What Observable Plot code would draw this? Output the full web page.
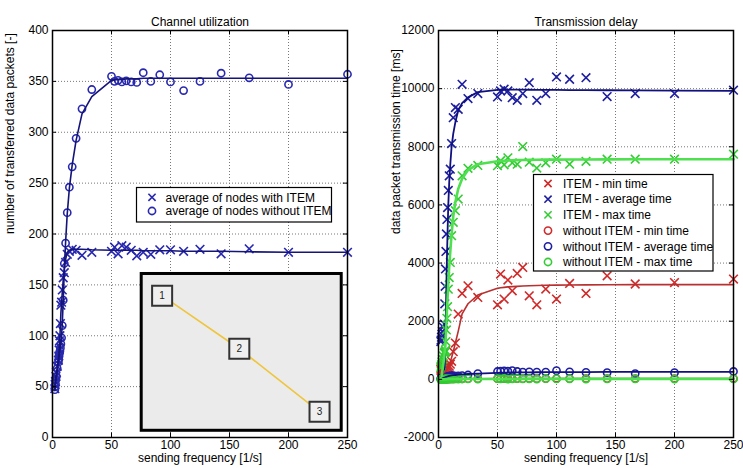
<!DOCTYPE html>
<html><head><meta charset="utf-8">
<script src="https://cdn.jsdelivr.net/npm/d3@7"></script>
<script src="https://cdn.jsdelivr.net/npm/@observablehq/plot@0.6"></script>
<style>
body{margin:0;background:#fff;font-family:"Liberation Sans",Arial,sans-serif;}
#wrap{position:relative;width:743px;height:468px;display:flex;overflow:hidden;}
#wrap svg{max-width:none;}
</style></head><body><div id="wrap"></div>
<script>
// ---------- data ----------
const freq = [2, 2.2, 2.5, 2.9, 3.3, 4, 5, 5.3, 5.6, 5.9, 6.3, 6.7, 7.1, 7.7, 8.3, 9.1, 10, 11.1, 12.5, 14.3, 16.7, 20, 25, 33.3,
  50, 52.6, 55.6, 58.8, 62.5, 66.7, 71.4, 76.9, 83.3, 90.9, 100, 111.1, 125, 142.9, 166.7, 200, 250];

// Channel utilization
const withItem = [48, 52, 55, 60, 64, 70, 76, 80, 86, 95, 100, 112, 130, 133, 145, 157, 162, 172, 180, 183, 185, 184, 179, 182,
  183, 187, 180.5, 188.5, 187, 184, 178.5, 182, 180, 184.5, 184.5, 183, 185, 180.5, 185.5, 182, 182];
const withItemFit = [47, 51, 54, 59, 63, 69, 76, 80, 85, 92, 100, 110, 122, 132, 143, 155, 165, 175, 182, 184, 185, 185, 185, 184.5,
  184, 184, 184, 184, 184, 184, 184, 183.5, 183.5, 183.5, 183.5, 183, 183, 183, 182.5, 182, 182];
const withoutItem = [47, 50, 53, 57, 60, 68, 74, 77, 80, 83, 85, 88, 92, 98, 110, 135, 171, 191, 221, 246, 266, 294, 323, 342,
  355, 350, 351, 349.5, 350.5, 349.5, 349, 358.5, 350, 356.5, 349.5, 341, 350, 358, 353.5, 347, 357];
const withoutItemFit = [46, 49, 52, 56, 60, 66, 74, 77, 80, 83, 86, 89, 93, 100, 112, 135, 165, 192, 220, 245, 268, 292, 318, 335,
  351, 351.5, 352, 352, 352.5, 352.5, 352.5, 353, 353, 353, 353, 353, 353, 353, 353, 353, 353];

// Transmission delay
const itemMin = [350, 300, 420, 260, 320, 480, 360, 300, 420, 350, 300, 450, 360, 500, 400, 450, 520, 620, 950, 1250, 2245, 2954, 3218, 2816,
  2565, 3620, 2760, 3414, 3046, 3643, 3848, 2874, 2565, 3105, 2760, 3300, 2954, 3563, 3280, 3330, 3448];
const itemMinFit = [150, 160, 170, 180, 190, 210, 240, 250, 265, 280, 300, 320, 340, 380, 420, 500, 600, 750, 950, 1250, 1650, 2250, 2600, 2900,
  3130, 3150, 3165, 3180, 3190, 3200, 3210, 3220, 3230, 3235, 3240, 3245, 3250, 3255, 3258, 3260, 3260];
const itemAvg = [1300, 1350, 1450, 1550, 1650, 1800, 1900, 2600, 3200, 3800, 4400, 5000, 5500, 5910, 6500, 7000, 7230, 8110, 9000, 9350, 9290, 10150, 9660, 9830,
  9715, 9920, 9980, 9920, 9690, 9600, 9830, 10206, 9600, 9830, 10402, 10323, 10378, 9727, 9830, 9830, 9945];
const itemAvgFit = [100, 120, 150, 200, 250, 300, 350, 500, 900, 1500, 2400, 3300, 4100, 5100, 6000, 6800, 7400, 8000, 8450, 8850, 9250, 9500, 9700, 9880,
  9960, 9962, 9963, 9964, 9964, 9964, 9963, 9962, 9960, 9958, 9955, 9952, 9948, 9944, 9938, 9930, 9920];
const itemMax = [400, 450, 500, 600, 700, 800, 900, 925, 950, 1000, 1300, 1700, 2100, 2500, 3100, 3500, 4020, 4940, 5400, 5800, 6200, 7000, 7260, 7360,
  7350, 7520, 7380, 7620, 7450, 7400, 8006, 7470, 7270, 7450, 7573, 7400, 7500, 7573, 7573, 7573, 7745];
const itemMaxFit = [0, 50, 100, 200, 300, 500, 800, 950, 1100, 1300, 1600, 1900, 2300, 2800, 3300, 3900, 4400, 5000, 5600, 6100, 6550, 6900, 7200, 7400,
  7500, 7510, 7520, 7530, 7535, 7540, 7545, 7550, 7555, 7558, 7560, 7562, 7565, 7567, 7570, 7570, 7570];
const noItemMin = [5, 5, 8, 6, 10, 8, 12, 10, 12, 14, 12, 15, 14, 16, 15, 18, 16, 18, 20, 18, 22, 20, 24, 22,
  25, 24, 26, 25, 24, 26, 25, 27, 25, 26, 28, 25, 27, 26, 28, 27, 28];
const noItemMinFit = [5, 6, 7, 8, 9, 10, 11, 12, 12, 13, 13, 14, 14, 15, 15, 16, 16, 17, 18, 19, 20, 21, 22, 23,
  24, 24, 24, 25, 25, 25, 25, 25, 26, 26, 26, 26, 26, 27, 27, 27, 27];
const noItemAvg = [30, 30, 35, 40, 45, 50, 60, 65, 70, 75, 80, 90, 95, 100, 105, 110, 120, 125, 130, 110, 120, 130, 150, 200,
  270, 280, 290, 280, 300, 270, 250, 260, 250, 250, 300, 260, 240, 230, 200, 230, 272];
const noItemAvgFit = [0, 5, 10, 20, 30, 45, 60, 65, 70, 75, 80, 88, 95, 102, 110, 118, 126, 134, 142, 150, 160, 172, 185, 200,
  225, 228, 231, 234, 236, 238, 240, 242, 244, 246, 248, 250, 252, 254, 256, 258, 260];
const noItemMax = [-10, 0, 5, -5, 10, 5, 0, 10, 5, 15, 0, 10, 20, 5, 15, 10, 20, 15, 5, 25, 10, 20, 15, 10,
  25, 15, 30, 10, 20, 25, 15, 20, 10, 25, 15, 20, 10, 15, 20, 10, 15];
const noItemMaxFit = [0, 1, 2, 3, 4, 5, 6, 7, 7, 8, 8, 9, 9, 10, 10, 10, 11, 11, 12, 12, 12, 13, 13, 13,
  14, 14, 14, 14, 14, 14, 15, 15, 15, 15, 15, 15, 15, 15, 15, 15, 15];

// ticks
const xTicks = [0, 50, 100, 150, 200, 250];
const leftYTicks = [0, 50, 100, 150, 200, 250, 300, 350, 400];
const rightYTicks = [-2000, 0, 2000, 4000, 6000, 8000, 10000, 12000];

// inset (topology drawing, in chart units)
const insetBox = [{x1: 75.6, x2: 245.1, y1: 6.6, y2: 160.7}];
const insetNodes = [
  {label: "1", x: 92.9, y: 139.4},
  {label: "2", x: 158.3, y: 87.2},
  {label: "3", x: 226.3, y: 25.3}
];

// ---------- helpers ----------
const FONT = "'Liberation Sans', Arial, Helvetica, sans-serif";
const toRows = (ys) => freq.map((f, i) => ({f, v: ys[i]}));
const plain = (d) => String(d);

function innerTicks(xd, yd, xt, yt) {
  const dx = (xd[1] - xd[0]) * 0.014, dy = (yd[1] - yd[0]) * 0.011;
  const xi = xt.filter(t => t > xd[0] && t < xd[1]);
  const yi = yt.filter(t => t > yd[0] && t < yd[1]);
  const o = {stroke: "black", strokeWidth: 1};
  return [
    Plot.ruleX(xi, {x: d => d, y1: yd[0], y2: yd[0] + dy, ...o}),
    Plot.ruleX(xi, {x: d => d, y1: yd[1] - dy, y2: yd[1], ...o}),
    Plot.ruleY(yi, {y: d => d, x1: xd[0], x2: xd[0] + dx, ...o}),
    Plot.ruleY(yi, {y: d => d, x1: xd[1] - dx, x2: xd[1], ...o})
  ];
}
function labels(title, ylab, ydx) {
  return [
    Plot.text([title], {text: d => d, frameAnchor: "top", dy: -13, fontSize: 12}),
    Plot.text(["sending frequency [1/s]"], {text: d => d, frameAnchor: "bottom", dy: 24, fontSize: 12}),
    Plot.text([ylab], {text: d => d, frameAnchor: "left", rotate: -90, dx: ydx, fontSize: 12})
  ];
}
const grid = (yt) => [
  Plot.gridX(xTicks, {stroke: "#777", strokeOpacity: 1, strokeDasharray: "1,2"}),
  Plot.gridY(yt, {stroke: "#777", strokeOpacity: 1, strokeDasharray: "1,2"})
];
const xs = (ys, c) => Plot.dot(toRows(ys), {x: "f", y: "v", symbol: "times", r: 4, stroke: c, strokeWidth: 1.6});
const os = (ys, c) => Plot.dot(toRows(ys), {x: "f", y: "v", symbol: "circle", r: 3.6, stroke: c, strokeWidth: 1.6, fill: "none"});
const ln = (ys, c, w = 1.6) => Plot.line(toRows(ys), {x: "f", y: "v", stroke: c, strokeWidth: w});

// ---------- left chart ----------
const LB = "#2828b0", LL = "#14147a";
const left = Plot.plot({
  width: 372, height: 468, marginLeft: 52, marginRight: 25, marginTop: 30, marginBottom: 31,
  style: {fontFamily: FONT, fontSize: "12px", background: "white", overflow: "visible", color: "black"},
  x: {domain: [0, 250]},
  y: {domain: [0, 400]},
  marks: [
    ...grid(leftYTicks),
    Plot.rect(insetBox, {x1: "x1", x2: "x2", y1: "y1", y2: "y2", fill: "#ebebeb", stroke: "black", strokeWidth: 3}),
    Plot.line(insetNodes, {x: "x", y: "y", stroke: "#eec53c", strokeWidth: 1.6}),
    Plot.dot(insetNodes, {x: "x", y: "y", symbol: "square", r: 11.3, fill: "#efefef", stroke: "#333", strokeWidth: 2}),
    Plot.text(insetNodes, {x: "x", y: "y", text: "label", fontSize: 10, fill: "#222"}),
    xs(withItem, LB),
    os(withoutItem, LB),
    ln(withItemFit, LL),
    ln(withoutItemFit, LL),
    ...innerTicks([0, 250], [0, 400], xTicks, leftYTicks),
    Plot.axisX(xTicks, {tickSize: 0, tickPadding: 3, label: null, fontSize: 12, tickFormat: plain}),
    Plot.axisY(leftYTicks, {tickSize: 0, tickPadding: 4, label: null, fontSize: 12, tickFormat: plain}),
    Plot.frame({stroke: "black", strokeWidth: 1.5}),
    ...labels("Channel utilization", "number of transferred data packets [-]", -42)
  ]
});

// ---------- right chart ----------
const RR = "#d02a2a", RRL = "#b83030", RB = "#1e1ea0", RBL = "#10107e", RG = "#33cc33", RGL = "#4fe04f";
const right = Plot.plot({
  width: 371, height: 468, marginLeft: 66, marginRight: 10, marginTop: 30, marginBottom: 31,
  style: {fontFamily: FONT, fontSize: "12px", background: "white", overflow: "visible", color: "black"},
  x: {domain: [0, 250]},
  y: {domain: [-2000, 12000]},
  marks: [
    ...grid(rightYTicks),
    xs(itemMin, RR),
    xs(itemAvg, RB),
    xs(itemMax, RG),
    os(noItemMin, RR),
    os(noItemAvg, RB),
    os(noItemMax, RG),
    ln(itemMinFit, RRL),
    ln(itemAvgFit, RBL, 1.8),
    ln(itemMaxFit, RGL, 2.6),
    ln(noItemMinFit, RRL),
    ln(noItemAvgFit, RBL, 1.8),
    ln(noItemMaxFit, RGL, 2.6),
    ...innerTicks([0, 250], [-2000, 12000], xTicks, rightYTicks),
    Plot.axisX(xTicks, {tickSize: 0, tickPadding: 3, label: null, fontSize: 12, tickFormat: plain}),
    Plot.axisY(rightYTicks, {tickSize: 0, tickPadding: 4, label: null, fontSize: 12, tickFormat: plain}),
    Plot.frame({stroke: "black", strokeWidth: 1.5}),
    ...labels("Transmission delay", "data packet transmission time [ms]", -42)
  ]
});

const wrap = document.getElementById("wrap");
wrap.appendChild(left);
wrap.appendChild(right);

// ---------- legends ----------
function legend(x, y, w, h, entries, mx, tx, y0, dy) {
  const svg = d3.select(wrap).append("svg")
    .attr("width", w + 2).attr("height", h + 2)
    .style("position", "absolute").style("left", x + "px").style("top", y + "px")
    .style("overflow", "visible");
  svg.append("rect").attr("x", 0.5).attr("y", 0.5).attr("width", w).attr("height", h)
    .attr("fill", "white").attr("stroke", "black").attr("stroke-width", 1.2);
  entries.forEach((e, i) => {
    const cy = y0 + i * dy;
    if (e.symbol === "times") {
      const r = 3.6;
      svg.append("path").attr("d", `M${mx - r},${cy - r}L${mx + r},${cy + r}M${mx - r},${cy + r}L${mx + r},${cy - r}`)
        .attr("stroke", e.color).attr("stroke-width", 1.6).attr("fill", "none");
    } else {
      svg.append("circle").attr("cx", mx).attr("cy", cy).attr("r", 3.6)
        .attr("stroke", e.color).attr("stroke-width", 1.6).attr("fill", "none");
    }
    svg.append("text").attr("x", tx).attr("y", cy).attr("dy", "0.35em")
      .attr("font-family", FONT).attr("font-size", 12).attr("fill", "black").text(e.label);
  });
}
legend(135.5, 187, 195, 34.5, [
  {symbol: "times", color: LB, label: "average of nodes with ITEM"},
  {symbol: "circle", color: LB, label: "average of nodes without ITEM"}
], 16, 29.5, 10.3, 13.7);
legend(533, 174, 179.5, 96.5, [
  {symbol: "times", color: RR, label: "ITEM - min time"},
  {symbol: "times", color: RB, label: "ITEM - average time"},
  {symbol: "times", color: RG, label: "ITEM - max time"},
  {symbol: "circle", color: RR, label: "without ITEM - min time"},
  {symbol: "circle", color: RB, label: "without ITEM - average time"},
  {symbol: "circle", color: RG, label: "without ITEM - max time"}
], 15, 30, 9.5, 15.7);
</script>
</body></html>
